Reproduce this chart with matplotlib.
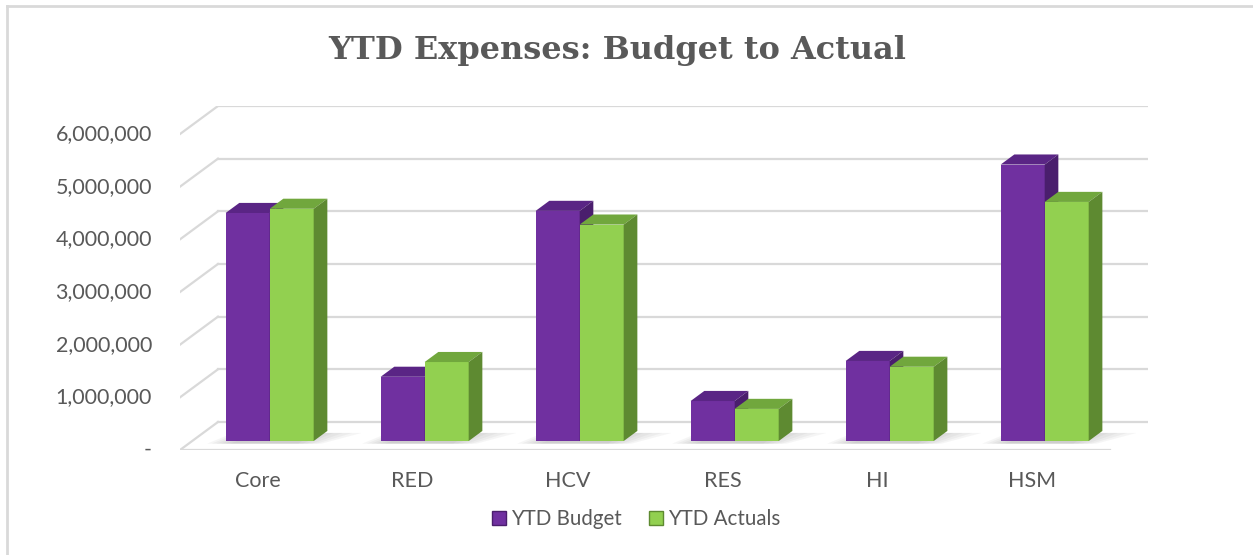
import matplotlib
matplotlib.use("Agg")
import matplotlib.pyplot as plt
from matplotlib.patches import Polygon
from matplotlib.lines import Line2D

# data
categories = ["Core", "RED", "HCV", "RES", "HI", "HSM"]
ytd_budget = [4330000, 1220000, 4370000, 760000, 1520000, 5250000]
ytd_actuals = [4410000, 1500000, 4110000, 610000, 1410000, 4540000]
tick_values = [0, 1000000, 2000000, 3000000, 4000000, 5000000, 6000000]
tick_labels = ["-", "1,000,000", "2,000,000", "3,000,000", "4,000,000", "5,000,000", "6,000,000"]
series_names = ["YTD Budget", "YTD Actuals"]

# colours: front, top, side
purple = ("#7030A0", "#5A2585", "#4A1E6D")
green = ("#92D050", "#71A73D", "#5E8A31")
grid_col = "#D9D9D9"
text_col = "#595959"

# fake oblique 3d: depth offset in data units
DX = 0.245
DY = 0.532e6
z0, z1 = 0.32, 0.68
bw = 0.284

W, H = 1253, 555
fig = plt.figure(figsize=(W / 100, H / 100), dpi=100)
ax = fig.add_axes([180 / W, (H - 450) / H, (1148 - 180) / W, (450 - 106) / H])
ax.set_xlim(-0.5, len(categories) - 0.5 + DX)
ax.set_ylim(0, tick_values[-1] + DY)
ax.axis("off")

# back wall grid, left wall diagonals, front floor edge
xl, xr = -0.5, len(categories) - 0.5
for v in tick_values:
    ax.plot([xl + DX, xr + DX], [v + DY, v + DY], color=grid_col, lw=1.6, zorder=1)
    ax.plot([xl, xl + DX], [v, v + DY], color=grid_col, lw=1.6, zorder=1)
ax.plot([xl, xr], [0, 0], color=grid_col, lw=1.6, zorder=1)

# tick labels on the front plane
for v, lab in zip(tick_values, tick_labels):
    ax.text(xl - 0.18, v, lab, ha="right", va="center", fontsize=15.5,
            family="Lato", color=text_col)
for i, c in enumerate(categories):
    ax.text(i, -0.58e6, c, ha="center", va="center", fontsize=15.5,
            family="Lato", color=text_col)

dz = z1 - z0
base = z0 * DY


def draw_bar(x0, val, cols, z):
    front, top, side = cols
    ax.bar(x0, val, width=bw, bottom=base, align="edge", color=front,
           edgecolor="none", zorder=z)
    t = val + base
    ax.add_patch(Polygon([(x0, t), (x0 + bw, t), (x0 + bw + dz * DX, t + dz * DY),
                          (x0 + dz * DX, t + dz * DY)], closed=True,
                         facecolor=top, edgecolor="none", zorder=z))
    ax.add_patch(Polygon([(x0 + bw, base), (x0 + bw, t), (x0 + bw + dz * DX, t + dz * DY),
                          (x0 + bw + dz * DX, base + dz * DY)], closed=True,
                         facecolor=side, edgecolor="none", zorder=z))


for i in range(len(categories)):
    c = i + z0 * DX
    # soft shadow on the floor
    for k in range(6):
        s = 0.03 * k
        ax.add_patch(Polygon([(c - bw - 0.12 + s, base - 0.05e6),
                              (c + bw + 0.05 - s, base - 0.05e6),
                              (c + bw + dz * DX + 0.22 - 2 * s, base + dz * DY * 0.8),
                              (c - bw + 0.05 + s, base + dz * DY * 0.8)],
                             closed=True, facecolor="#7F7F7F", alpha=0.07,
                             edgecolor="none", zorder=2))
    draw_bar(c - bw, ytd_budget[i], purple, 3 + 2 * i)
    draw_bar(c, ytd_actuals[i], green, 4 + 2 * i)

fig.text(617 / W, 1 - 50 / H, "YTD Expenses: Budget to Actual", ha="center", va="center",
         fontsize=23, fontweight="bold", family="DejaVu Serif", color=text_col)

handles = [Line2D([], [], marker="s", ls="none", markersize=9.5, color=purple[0],
                  markeredgecolor=purple[2]),
           Line2D([], [], marker="s", ls="none", markersize=9.5, color=green[0],
                  markeredgecolor=green[2])]
leg = fig.legend(handles, series_names, loc="center", bbox_to_anchor=(636 / W, 1 - 519 / H),
                 ncol=2, frameon=False, handlelength=0.7, handletextpad=0.25,
                 columnspacing=1.3, prop={"family": "Lato", "size": 14.8})
for t in leg.get_texts():
    t.set_color(text_col)

# chart border (top and left visible)
fig.add_artist(Line2D([7 / W, 7 / W], [0, 1 - 6 / H], color=grid_col, lw=2))
fig.add_artist(Line2D([7 / W, 1], [1 - 6 / H, 1 - 6 / H], color=grid_col, lw=2))

fig.savefig("out.png", dpi=100)
